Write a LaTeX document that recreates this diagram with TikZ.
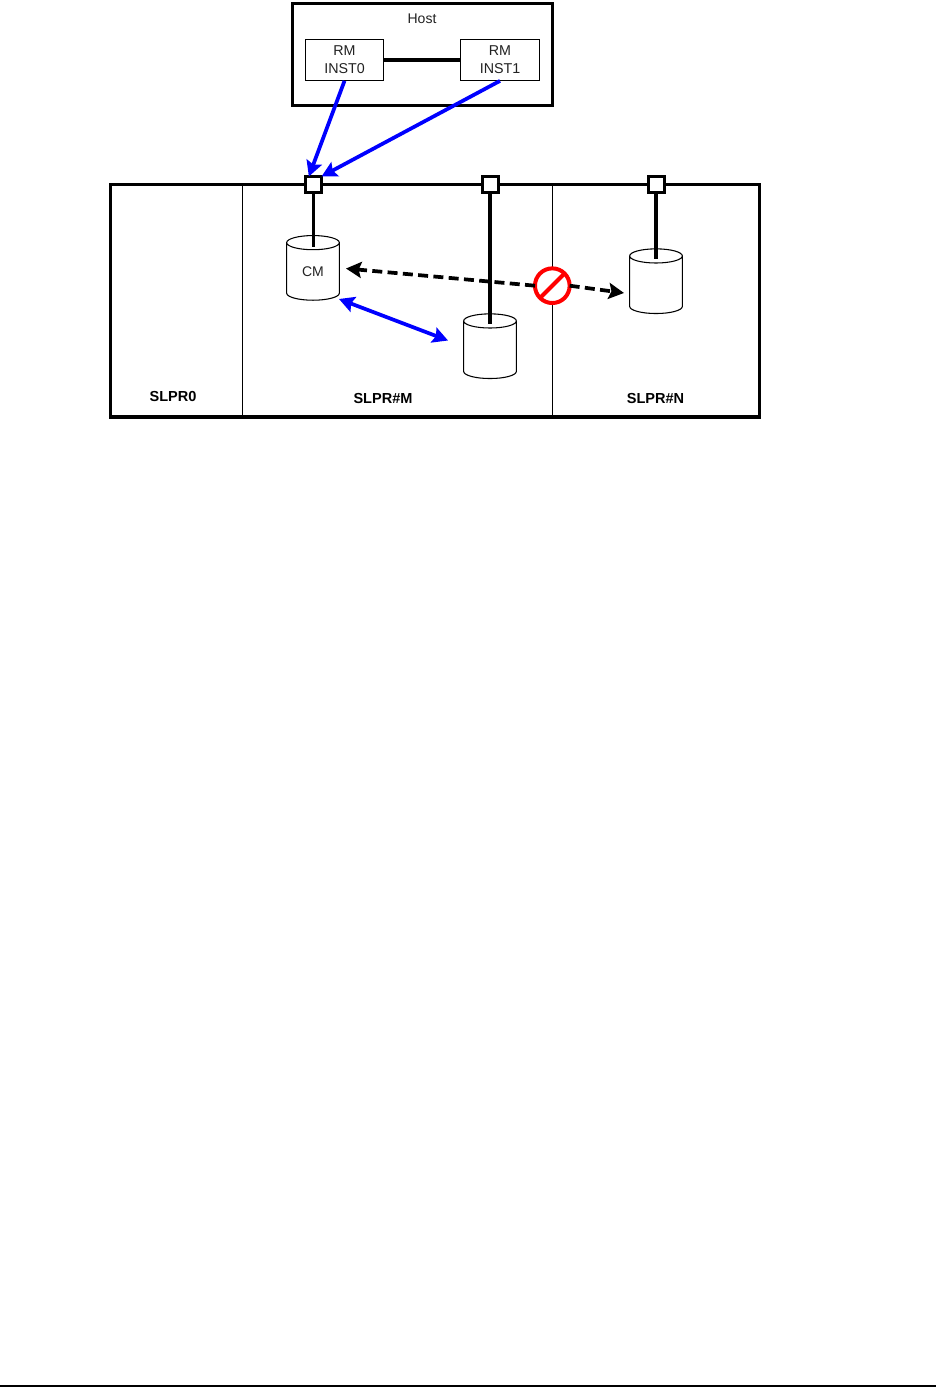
\documentclass[tikz,border=0pt]{standalone}
\usepackage{xcolor}
\usepackage{fontspec}
\setmainfont{Liberation Sans}
\usetikzlibrary{shapes.geometric, arrows.meta, positioning}
\definecolor{INKgrey}{RGB}{34,34,34}
\tikzset{
  rmbox/.style={draw, line width=0.8pt, minimum width=59pt, minimum height=30.5pt, inner sep=0pt, align=center, text=INKgrey, font=\fontsize{10.7}{13.5}\selectfont},
  port/.style={draw, fill=white, line width=2.25pt, minimum size=12pt, inner sep=0pt, outer sep=0pt},
  disk/.style={cylinder, shape border rotate=90, aspect=0.65, draw, fill=white, line width=0.8pt, minimum width=39.5pt, minimum height=48.5pt, inner sep=0pt, text=INKgrey, font=\fontsize{10.5}{12}\selectfont},
  slprlabel/.style={font=\fontsize{10.9}{12}\selectfont\bfseries},
  bus/.style={line width=2.6pt},
  bluelink/.style={blue, line width=2.8pt, -{Stealth[length=11.5pt, width=12pt, inset=2pt]}},
  denied/.style={line width=2.8pt, dash pattern=on 7.5pt off 4pt}
}
\begin{document}
\begin{tikzpicture}[>=Stealth, x=0.75pt, y=-0.75pt]
    \useasboundingbox[fill=white] (0,0) rectangle (937,1387);
    % Host
    \draw[line width=2.4pt] (292.5,3.5) rectangle (552.5,105.5);
    \node[text=INKgrey, font=\fontsize{10.5}{12}\selectfont] (hostlabel) at (422,18.5) {Host};
    \node[rmbox] (inst0) at (344.5,60) {RM\\INST0};
    \node[rmbox] (inst1) at (500,60) {RM\\INST1};
    \draw[line width=3pt] (inst0) -- (inst1);
    % Partitions
    \draw[line width=2.4pt] (110.5,184.5) rectangle (759.5,417);
    \draw[line width=0.8pt] (242.5,184.5) -- (242.5,417);
    \draw[line width=0.8pt] (552.5,184.5) -- (552.5,417);
    \node[slprlabel] (slpr0) at (173,396.5) {SLPR0};
    \node[slprlabel] (slprM) at (383,398.5) {SLPR\#M};
    \node[slprlabel] (slprN) at (655.5,398.5) {SLPR\#N};
    % Disks
    \node[disk] (cm) at (313,271.7) {CM};
    \node[disk] (diskM) at (490,350) {\phantom{CM}};
    \node[disk] (diskN) at (656,285) {\phantom{CM}};
    % Ports
    \node[port] (port0) at (313.5,184.5) {};
    \node[port] (portM) at (490,184.5) {};
    \node[port] (portN) at (656,184.5) {};
    \coordinate (tap0) at (313.5,247);
    \coordinate (tapM) at (490,324);
    \coordinate (tapN) at (656,259);
    \draw[bus] (port0) -- (tap0);
    \draw[bus] (portM) -- (tapM);
    \draw[bus] (portN) -- (tapN);
    % Paths to the port
    \draw[bluelink] (inst0.south) -- ([xshift=2.5pt]port0.north west);
    \draw[bluelink] (inst1.south) -- (port0.north east);
    % Copy between disks
    \coordinate (cmlow) at (339,299);
    \coordinate (disklow) at (448,340.5);
    \draw[bluelink, {Stealth[length=11.5pt, width=12pt, inset=2pt]}-{Stealth[length=11.5pt, width=12pt, inset=2pt]}] (cmlow) -- (disklow);
    % Blocked copy
    \node[circle, draw=red, fill=white, line width=3pt, minimum size=26pt, inner sep=0pt, outer sep=0pt] (nosign) at (552.3,285.7) {};
    \draw[red, line width=3pt] (nosign.south west) -- (nosign.north east);
    \coordinate (cmside) at (346,268.5);
    \coordinate (diskside) at (624,293);
    \draw[denied, -{Stealth[length=11.5pt, width=12pt, inset=2pt]}] (nosign.west) -- (cmside);
    \draw[denied, -{Stealth[length=11.5pt, width=12pt, inset=2pt]}] (nosign.east) -- (diskside);
    % Page rule
    \draw[line width=1.5pt] (0,1386) -- (936,1386);
  \end{tikzpicture}
\end{document}
